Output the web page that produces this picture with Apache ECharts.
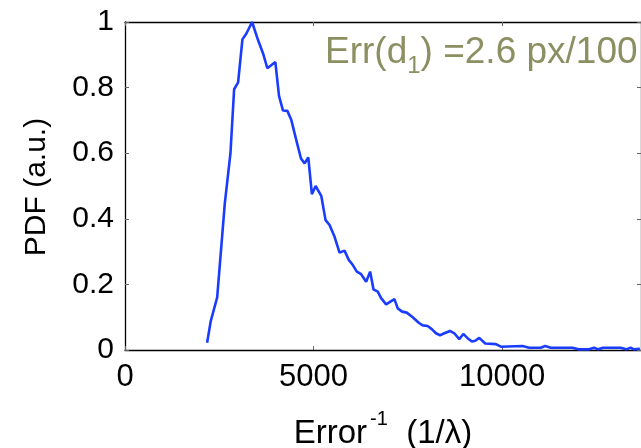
<!DOCTYPE html>
<html>
<head>
<meta charset="utf-8">
<script src="https://cdn.jsdelivr.net/npm/echarts@6/dist/echarts.min.js"></script>
<style>html,body{margin:0;padding:0;background:#fff;}#c{width:641px;height:448px;}</style>
</head>
<body>
<div id="c"></div>
<script>
var errInv = [2177,2275,2443,2646,2796,2893,2999,3113,3219,3369,3527,3660,3774,3986,4083,4189,4304,4410,4541,4665,4762,4859,4955,5053,5203,5317,5423,5556,5688,5820,5935,6041,6146,6261,6393,6499,6587,6701,6790,6922,7143,7231,7346,7469,7628,7787,7892,8024,8140,8245,8351,8466,8616,8730,8862,8968,9083,9198,9286,9392,9550,9833,9966,10539,10714,11024,11138,11288,11861,12020,12302,12434,12549,12672,13140,13289,13405,13492,13651];
var pdf = [0.022,0.089,0.16,0.447,0.60,0.795,0.816,0.947,0.965,1.0,0.945,0.904,0.859,0.878,0.775,0.730,0.729,0.701,0.640,0.584,0.569,0.587,0.475,0.50,0.47,0.396,0.381,0.345,0.297,0.303,0.274,0.259,0.239,0.231,0.208,0.239,0.185,0.178,0.158,0.139,0.155,0.127,0.117,0.114,0.100,0.083,0.075,0.073,0.063,0.051,0.045,0.051,0.058,0.051,0.033,0.049,0.036,0.026,0.028,0.037,0.020,0.018,0.010,0.012,0.007,0.007,0.012,0.007,0.007,0.002,0.002,0.007,0.002,0.007,0.007,0.002,0.007,0.002,0.004];
var xTicks = [0, 5000, 10000];
var yTicks = [0, 0.2, 0.4, 0.6, 0.8, 1];
var xMax = 13680;

var FONT = 'Liberation Sans, Arial, Helvetica, sans-serif';
var chart = echarts.init(document.getElementById('c'), null, {renderer: 'canvas'});
var seriesData = errInv.map(function (x, i) { return [x, pdf[i]]; });
var tickStyle = {show: true, inside: true, length: 4, lineStyle: {color: '#666', width: 1}};
var lineStyleAx = {show: true, onZero: false, lineStyle: {color: '#000', width: 1.3}};

chart.setOption({
  animation: false,
  backgroundColor: '#fff',
  grid: {left: 125, top: 22, width: 517, height: 328, containLabel: false},
  xAxis: [{
    type: 'value', min: 0, max: xMax, interval: 5000, position: 'bottom',
    axisLine: lineStyleAx, axisTick: tickStyle, splitLine: {show: false},
    axisLabel: {show: true, showMaxLabel: false, fontSize: 31, color: '#000', fontFamily: FONT, margin: 12,
      formatter: function (v) { return xTicks.indexOf(v) >= 0 ? String(v) : ''; }}
  }, {
    type: 'value', min: 0, max: xMax, interval: 5000, position: 'top',
    axisLine: lineStyleAx, axisTick: tickStyle, splitLine: {show: false}, axisLabel: {show: false}
  }],
  yAxis: [{
    type: 'value', min: 0, max: 1, interval: 0.2, position: 'left',
    axisLine: lineStyleAx, axisTick: tickStyle, splitLine: {show: false},
    axisLabel: {show: true, fontSize: 30, color: '#000', fontFamily: FONT, margin: 11,
      formatter: function (v) { var r = Math.round(v * 10) / 10; return yTicks.indexOf(r) >= 0 ? String(r) : ''; }}
  }, {
    type: 'value', min: 0, max: 1, interval: 0.2, position: 'right',
    axisLine: lineStyleAx, axisTick: tickStyle, splitLine: {show: false}, axisLabel: {show: false}
  }],
  series: [{
    type: 'line', data: seriesData, showSymbol: false, symbol: 'none', clip: true,
    lineStyle: {color: '#1a3cff', width: 2.6}
  }],
  graphic: [
    {
      type: 'text', x: 325, y: 53,
      style: {
        text: '{a|Err(d}{b|1}{a|) =2.6 px/100}',
        align: 'left', verticalAlign: 'middle',
        rich: {
          a: {fontSize: 37, fontFamily: FONT, fill: '#8c8f62', lineHeight: 50},
          b: {fontSize: 24, fontFamily: FONT, fill: '#8c8f62', lineHeight: 19, verticalAlign: 'bottom'}
        }
      }
    },
    {
      type: 'text', x: 383, y: 434,
      style: {
        text: '{a|Error}{b|-1}{a|  (1/λ)}',
        align: 'center', verticalAlign: 'middle',
        rich: {
          a: {fontSize: 33, fontFamily: FONT, fill: '#000', lineHeight: 50},
          b: {fontSize: 20, fontFamily: FONT, fill: '#000', lineHeight: 22, verticalAlign: 'top', padding: [0, 0, 0, 3]}
        }
      }
    },
    {
      type: 'text', x: 37, y: 187, rotation: Math.PI / 2,
      style: {text: 'PDF (a.u.)', fontSize: 30, fontFamily: FONT, fill: '#000', align: 'center', verticalAlign: 'middle'}
    }
  ]
});
</script>
</body>
</html>
